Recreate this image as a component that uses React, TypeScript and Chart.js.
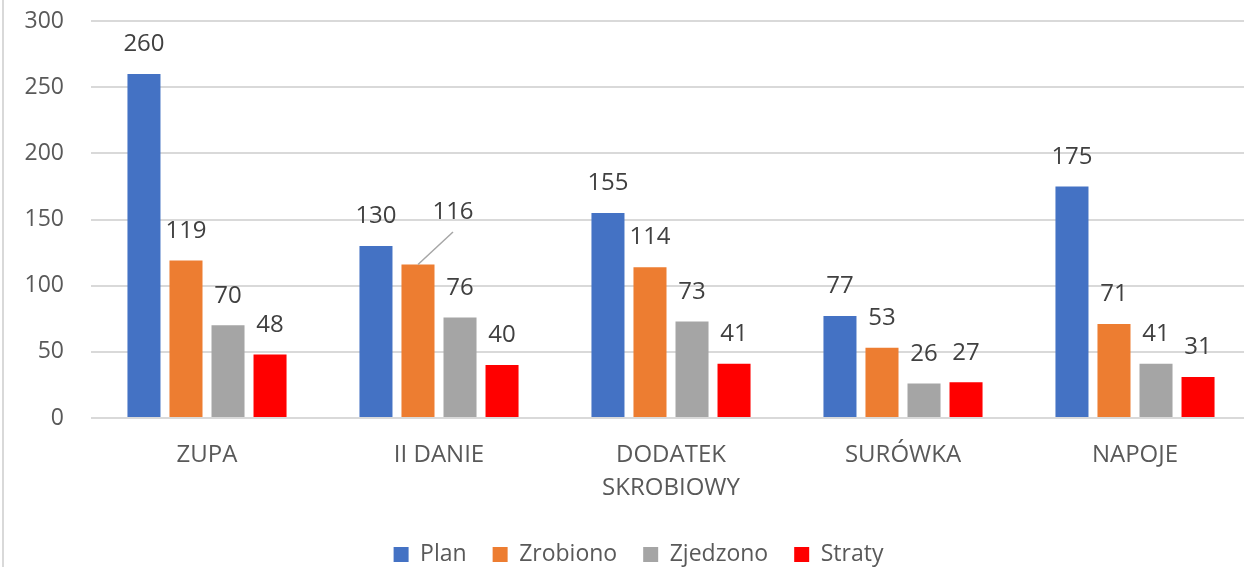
import React, { useEffect, useRef } from "react";
import { Chart, registerables } from "chart.js";

Chart.register(...registerables);

const categories: (string | string[])[] = ["ZUPA", "II DANIE", ["DODATEK", "SKROBIOWY"], "SURÓWKA", "NAPOJE"];
const planValues = [260, 130, 155, 77, 175];
const zrobionoValues = [119, 116, 114, 53, 71];
const zjedzonoValues = [70, 76, 73, 26, 41];
const stratyValues = [48, 40, 41, 27, 31];
const yTicks = [0, 50, 100, 150, 200, 250, 300];

const FONT = "'Open Sans', 'Noto Sans', sans-serif";
const AXIS_COLOR = "#595959";
const LABEL_COLOR = "#404040";

// label displaced with a leader line: [datasetIndex, dataIndex, dx, dy]
const MOVED_LABELS: [number, number, number, number][] = [[1, 1, 35, -23]];

const dataLabelPlugin = {
  id: "dataLabels",
  afterDatasetsDraw(chart: any) {
    const ctx = chart.ctx;
    ctx.save();
    ctx.font = `24px ${FONT}`;
    ctx.fillStyle = LABEL_COLOR;
    ctx.textAlign = "center";
    ctx.textBaseline = "middle";
    chart.data.datasets.forEach((ds: any, di: number) => {
      const meta = chart.getDatasetMeta(di);
      meta.data.forEach((bar: any, i: number) => {
        let x = bar.x;
        let y = bar.y - 29.5;
        const moved = MOVED_LABELS.find((m) => m[0] === di && m[1] === i);
        if (moved) {
          x += moved[2];
          y += moved[3];
          ctx.save();
          ctx.strokeStyle = "#a6a6a6";
          ctx.lineWidth = 1.5;
          ctx.beginPath();
          ctx.moveTo(bar.x, bar.y);
          ctx.lineTo(x, y + 20);
          ctx.stroke();
          ctx.restore();
        }
        ctx.fillText(String(ds.data[i]), x, y);
      });
    });
    ctx.restore();
  },
};

const borderPlugin = {
  id: "leftBorder",
  afterLayout(chart: any) {
    if (chart.legend) {
      chart.legend.left += 13;
      chart.legend.right += 13;
    }
  },
  beforeDraw(chart: any) {
    const ctx = chart.ctx;
    ctx.save();
    ctx.fillStyle = "#d9d9d9";
    ctx.fillRect(2, 0, 2, chart.height);
    ctx.restore();
  },
};

export default function App() {
  const ref = useRef<HTMLCanvasElement>(null);
  useEffect(() => {
    document.body.style.margin = "0";
    document.body.style.overflow = "hidden";
    const chart = new Chart(ref.current!, {
      type: "bar",
      data: {
        labels: categories as any,
        datasets: [
          { label: "Plan", data: planValues, backgroundColor: "#4472C4" },
          { label: "Zrobiono", data: zrobionoValues, backgroundColor: "#ED7D31" },
          { label: "Zjedzono", data: zjedzonoValues, backgroundColor: "#A5A5A5" },
          { label: "Straty", data: stratyValues, backgroundColor: "#FF0000" },
        ],
      },
      options: {
        animation: false,
        responsive: false,
        devicePixelRatio: 1,
        categoryPercentage: 0.7245,
        barPercentage: 0.786,
        layout: { padding: { top: 21, right: 5, bottom: 0, left: 0 } },
        plugins: {
          tooltip: { enabled: false },
          legend: {
            position: "bottom",
            labels: {
              boxWidth: 15,
              boxHeight: 15,
              padding: 26,
              color: AXIS_COLOR,
              font: { family: FONT, size: 23 },
            },
          },
        },
        scales: {
          x: {
            grid: { display: false, drawTicks: false },
            border: { display: false },
            ticks: {
              color: AXIS_COLOR,
              font: { family: FONT, size: 24, lineHeight: 1.4 },
              padding: 20,
              maxRotation: 0,
              autoSkip: false,
            },
            afterFit: (scale: any) => {
              scale.height = 99;
              scale.paddingLeft = 0;
              scale.paddingRight = 0;
            },
          },
          y: {
            min: 0,
            max: 300,
            afterBuildTicks: (scale: any) => {
              scale.ticks = yTicks.map((v) => ({ value: v }));
            },
            grid: { color: "#d9d9d9", lineWidth: 2, drawTicks: false },
            border: { display: false },
            ticks: {
              color: AXIS_COLOR,
              font: { family: FONT, size: 23 },
              padding: 27,
            },
            afterFit: (scale: any) => {
              scale.width = 91;
              scale.paddingTop = 0;
              scale.paddingBottom = 0;
            },
          },
        },
      },
      plugins: [dataLabelPlugin, borderPlugin],
    });
    return () => chart.destroy();
  }, []);
  return (
    <div style={{ position: "fixed", left: 0, top: 0, width: 1244, height: 567, overflow: "hidden", background: "#fff" }}>
      <canvas ref={ref} width={1256} height={576} style={{ display: "block" }} />
    </div>
  );
}
